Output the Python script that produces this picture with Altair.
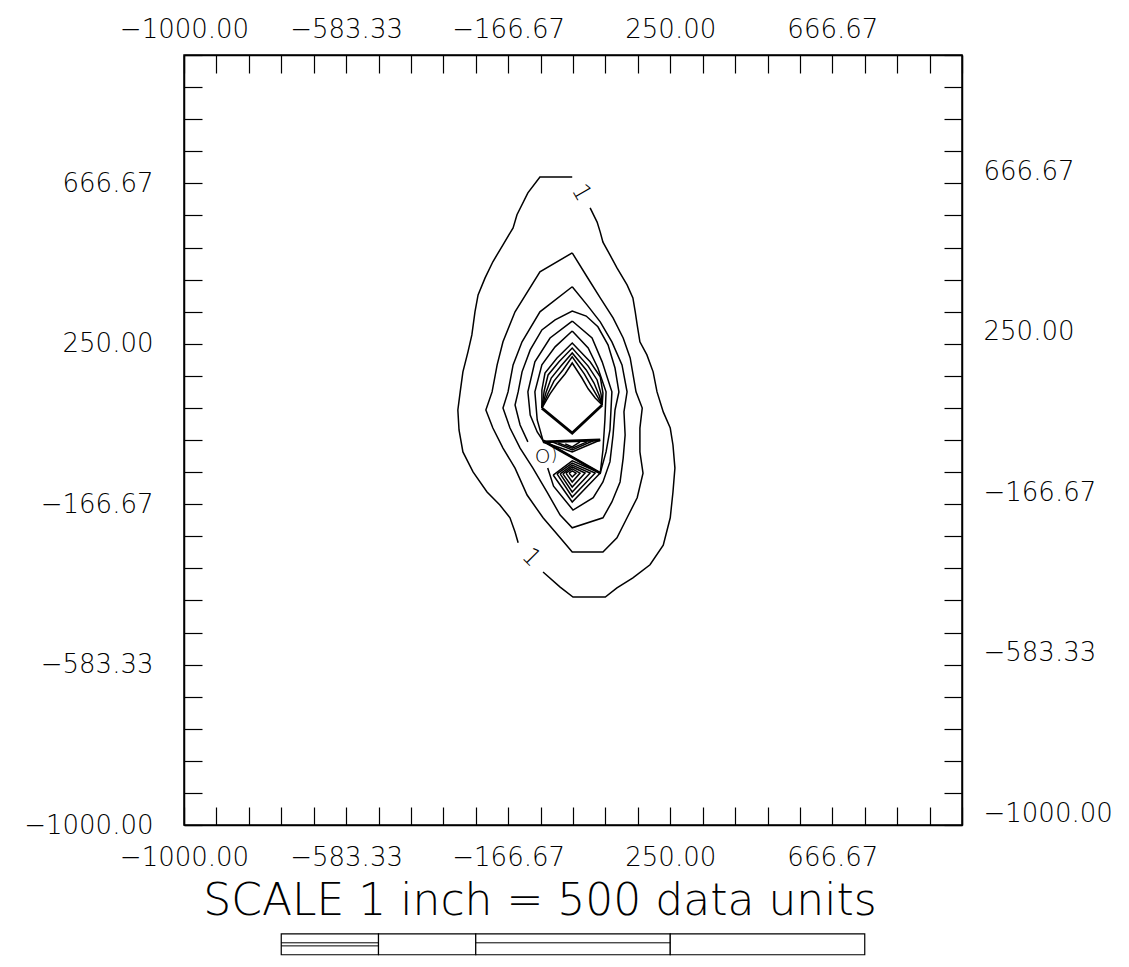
import altair as alt
import pandas as pd

FONT = "DejaVu Sans"

# ---------------- axes ----------------
TICK_VALUES = [round(-1000 + i * 2000 / 24, 2) for i in range(25)]
LABEL_VALUES = [-1000.0, -583.33, -166.67, 250.0, 666.67]

# ---------------- contour lines (data units) ----------------
# outermost contour (level 1), drawn in two pieces around its "1" labels
L1_RIGHT = [(44, 603), (62, 566), (70, 540), (77, 514), (95, 481), (113, 447), (139, 403),
            (154, 369), (160, 333), (165, 299), (172, 255), (190, 221), (206, 177), (216, 125),
            (232, 73), (250, 31), (257, -13), (262, -73), (257, -135), (250, -202), (232, -273),
            (198, -324), (154, -358), (113, -384), (83, -408), (0, -408), (-33, -382), (-77, -343)]
L1_LEFT = [(-141, -267), (-149, -239), (-162, -202), (-188, -169), (-221, -135), (-257, -83),
           (-283, -31), (-293, 26), (-296, 78), (-290, 125), (-283, 177), (-270, 229), (-260, 273),
           (-252, 333), (-244, 377), (-226, 421), (-206, 463), (-180, 507), (-154, 551),
           (-144, 585), (-116, 642), (-85, 683), (-2, 683)]
L2 = [(-2, 486), (-85, 437), (-149, 333), (-180, 255), (-195, 195), (-208, 125), (-224, 78),
      (-206, 31), (-180, -21), (-149, -73), (-118, -143), (-77, -202), (-33, -254), (-2, -291),
      (77, -291), (113, -254), (139, -202), (165, -150), (180, -86), (172, -31), (172, 31),
      (178, 83), (162, 125), (147, 213), (129, 265), (103, 317), (70, 369), (36, 424)]
L3 = [(-2, 398), (-85, 333), (-131, 255), (-154, 195), (-167, 125), (-180, 83), (-162, 31),
      (-136, -21), (-103, -73), (-67, -135), (-33, -195), (-2, -228), (77, -202), (100, -161),
      (121, -109), (129, -47), (134, 13), (131, 73), (139, 125), (126, 195), (100, 255),
      (70, 307), (36, 351)]
L4 = [(-65, -73), (-50, -120), (0, -182), (52, -150), (77, -109), (95, -57), (103, 13),
      (108, 78), (118, 125), (108, 187), (90, 247), (64, 294), (34, 322), (-2, 335), (-46, 312),
      (-80, 286), (-110, 234), (-131, 177), (-141, 125), (-149, 91), (-136, 39), (-116, -5)]
L5 = [(-2, 309), (-59, 265), (-98, 203), (-116, 125), (-110, 65), (-92, 21), (-77, -2),
      (70, -86), (85, -31), (95, 26), (100, 125), (75, 203), (49, 265)]
L6 = [(-2, 283), (-46, 242), (-80, 195), (-98, 125), (-92, 52), (-77, -2), (70, -86),
      (77, -26), (82, 52), (85, 125), (64, 187), (39, 239)]
# nested arches of the upper peak
FAN = [
    [(-80, 83), (-80, 130), (-72, 174), (-41, 213), (-2, 252), (44, 203), (70, 164), (77, 122), (75, 91)],
    [(-80, 83), (-74, 128), (-64, 169), (-36, 203), (-2, 239), (39, 192), (62, 156), (72, 120), (75, 91)],
    [(-80, 83), (-69, 125), (-56, 161), (-31, 192), (-2, 226), (34, 182), (54, 148), (67, 117), (75, 91)],
    [(-80, 83), (-64, 122), (-49, 153), (-26, 182), (-2, 216), (29, 172), (47, 140), (62, 114), (75, 91)],
    [(-80, 83), (-59, 120), (-41, 146), (-20, 172), (-2, 200), (23, 161), (39, 133), (57, 109), (75, 91)],
]
# nested wedges under the peak
WEDGES = [
    [(-77, -5), (-2, -31), (70, 0)],
    [(-54, -5), (-2, -26), (52, -2)],
    [(-38, -8), (-2, -21), (36, -5)],
    [(-20, -10), (-2, -18), (18, -5)],
]
# nested diamonds of the lower peak
DIAMONDS = [
    [(-51, -91), (-2, -54), (70, -86), (-2, -161)],
    [(-41, -88), (-2, -60), (57, -86), (-2, -148)],
    [(-33, -88), (-2, -65), (44, -86), (-2, -135)],
    [(-26, -88), (-2, -70), (31, -86), (-2, -122)],
    [(-18, -86), (-2, -75), (18, -86), (-2, -109)],
    [(-10, -86), (-2, -80), (8, -86), (-2, -96)],
]
# heavy (overlapping) strokes
HEAVY_V = [(75, 91), (-2, 18), (-80, 83)]
HEAVY_TOP = [(-77, -5), (70, 0)]
HEAVY_DIAG = [(-77, -2), (70, -86)]

# contour labels
ONE_LABELS = [(21, 642), (-108, -306)]
ZERO_LABEL = (-78, -44)
PAREN_LABEL = (-49, -41)

# scale bar (data units)
SCALE_TEXT = "SCALE 1 inch = 500 data units"
SCALE_TEXT_POS = (-85, -1200)
BAR_EDGES = [-750, -500, -250, 250, 750]
BAR_Y = (-1283, -1337)
BAR_STRIPES = [(-750, -500, -1306), (-750, -500, -1314), (-250, 250, -1306)]


def rows(name, pts, closed=False):
    p = list(pts) + ([pts[0]] if closed else [])
    return [{"seg": name, "i": i, "x": x, "y": y} for i, (x, y) in enumerate(p)]


thin_rows = []
thin_rows += rows("L1a", L1_RIGHT)
thin_rows += rows("L1b", L1_LEFT)
thin_rows += rows("L2", L2, True)
thin_rows += rows("L3", L3, True)
thin_rows += rows("L4", L4)
thin_rows += rows("L5", L5, True)
thin_rows += rows("L6", L6, True)
for k, f in enumerate(FAN):
    thin_rows += rows(f"F{k}", f)
for k, w in enumerate(WEDGES):
    thin_rows += rows(f"W{k}", w)
for k, d in enumerate(DIAMONDS):
    thin_rows += rows(f"D{k}", d, True)
thin_df = pd.DataFrame(thin_rows)

thick_df = pd.DataFrame(rows("HV", HEAVY_V) + rows("HT", HEAVY_TOP) + rows("HD", HEAVY_DIAG))

X_SCALE = alt.Scale(domain=[-1000, 1000], nice=False, zero=False)
Y_SCALE = alt.Scale(domain=[-1000, 1000], nice=False, zero=False)

label_expr = ("indexof([" + ",".join(str(v) for v in LABEL_VALUES) +
              "], datum.value) >= 0 ? format(datum.value, '.2f') : ''")


def make_axis(orient, pad, offset=0):
    kw = dict(orient=orient, values=TICK_VALUES, labelExpr=label_expr,
              tickSize=alt.ExprRef(expr="-18"), labelPadding=pad, title=None,
              grid=False, labelFlush=False, labelOverlap=False, labelLimit=0,
              labelFont=FONT, labelFontSize=26, labelFontWeight=200,
              labelColor="black", tickColor="black", tickWidth=1.2,
              domainColor="black", domainWidth=1.5)
    if offset:
        kw["labelOffset"] = offset
    return alt.Axis(**kw)


thin = alt.Chart(thin_df).mark_line(color="black", strokeWidth=1.5).encode(
    x=alt.X("x:Q", scale=X_SCALE, axis=make_axis("bottom", 37)),
    y=alt.Y("y:Q", scale=Y_SCALE, axis=make_axis("left", 49)),
    detail="seg:N", order="i:Q")

thick = alt.Chart(thick_df).mark_line(color="black", strokeWidth=2.8).encode(
    x=alt.X("x:Q", scale=X_SCALE, axis=make_axis("top", 31)),
    y=alt.Y("y:Q", scale=Y_SCALE, axis=make_axis("right", 39, -12)),
    detail="seg:N", order="i:Q")


def text_layer(x, y, t, size, angle=0, weight=200):
    df = pd.DataFrame({"x": [x], "y": [y], "t": [t]})
    kw = dict(font=FONT, fontSize=size, fontWeight=weight, color="black",
              align="center", baseline="middle")
    if angle:
        kw["angle"] = angle
    return alt.Chart(df).mark_text(**kw).encode(
        x=alt.X("x:Q", scale=X_SCALE, axis=None),
        y=alt.Y("y:Q", scale=Y_SCALE, axis=None),
        text="t:N")


one_top = text_layer(ONE_LABELS[0][0], ONE_LABELS[0][1], "1", 24, 60)
one_bot = text_layer(ONE_LABELS[1][0], ONE_LABELS[1][1], "1", 24, 45)
zero_lab = text_layer(ZERO_LABEL[0], ZERO_LABEL[1], "O", 20, 0, 300)
paren_lab = text_layer(PAREN_LABEL[0], PAREN_LABEL[1], ")", 17, 0, 300)
scale_txt = text_layer(SCALE_TEXT_POS[0], SCALE_TEXT_POS[1], SCALE_TEXT, 44)

bar_df = pd.DataFrame({"x0": BAR_EDGES[:-1], "x1": BAR_EDGES[1:],
                       "y0": [BAR_Y[0]] * 4, "y1": [BAR_Y[1]] * 4})
bar = alt.Chart(bar_df).mark_rect(fill="white", stroke="black", strokeWidth=1.2).encode(
    x=alt.X("x0:Q", scale=X_SCALE, axis=None), x2="x1:Q",
    y=alt.Y("y0:Q", scale=Y_SCALE, axis=None), y2="y1:Q")

stripe_df = pd.DataFrame(BAR_STRIPES, columns=["x0", "x1", "y"])
stripes = alt.Chart(stripe_df).mark_rule(color="black", strokeWidth=1.0).encode(
    x=alt.X("x0:Q", scale=X_SCALE, axis=None), x2="x1:Q",
    y=alt.Y("y:Q", scale=Y_SCALE, axis=None))

chart = alt.layer(
    thin, thick, one_top, one_bot, zero_lab, paren_lab, scale_txt, bar, stripes
).resolve_axis(x="independent", y="independent").properties(
    width=778, height=770,
    autosize=alt.AutoSizeParams(type="none"),
    padding={"left": 176, "top": 47, "right": 159, "bottom": 131},
    background="white",
).configure_view(stroke="black", strokeWidth=1.5)

chart.save("out.html", embed_options={"renderer": "svg", "actions": False})
